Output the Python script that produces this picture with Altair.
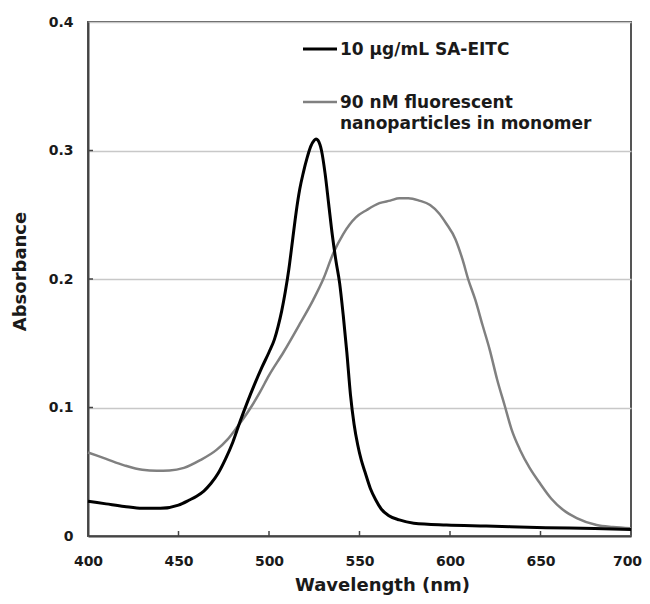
import altair as alt
import pandas as pd

# SA-EITC (black)
eitc_wl = [400, 410, 420, 430, 440, 450, 456, 460, 464, 468, 472, 476, 480, 484, 488, 492, 496,
           500, 503, 505, 507, 509, 511, 513, 515, 517, 519, 521, 523, 525, 526, 527, 529, 531,
           533, 535, 537, 539, 541, 543, 545, 547, 549, 551, 553, 556, 559, 562, 566, 572, 580,
           598, 620, 653, 680, 700]
eitc_abs = [0.027, 0.025, 0.023, 0.0215, 0.0215, 0.024, 0.028, 0.031, 0.035, 0.041, 0.049,
            0.060, 0.073, 0.089, 0.104, 0.118, 0.131, 0.143, 0.153, 0.163, 0.175, 0.190,
            0.208, 0.230, 0.252, 0.270, 0.283, 0.294, 0.303, 0.308, 0.309, 0.308, 0.300,
            0.282, 0.258, 0.234, 0.214, 0.197, 0.172, 0.143, 0.110, 0.087, 0.071, 0.059,
            0.050, 0.037, 0.028, 0.021, 0.016, 0.0125, 0.010, 0.0086, 0.0078, 0.0065, 0.0058,
            0.005]

# fluorescent nanoparticles (gray)
np_wl = [400, 410, 420, 430, 438, 445, 453, 462, 471, 477, 482, 489.5, 495, 500, 508, 517,
         524.5, 530, 535.5, 541, 548, 554, 561, 567, 572, 577, 583, 589, 594, 598, 603, 607,
         610, 614, 618, 622, 626, 630.4, 634, 638.7, 644, 649.7, 656, 662.6, 670, 681, 690, 700]
np_abs = [0.065, 0.060, 0.055, 0.0515, 0.0508, 0.051, 0.053, 0.059, 0.067, 0.075, 0.084,
          0.099, 0.112, 0.125, 0.143, 0.165, 0.184, 0.200, 0.220, 0.235, 0.248, 0.2537,
          0.259, 0.261, 0.2628, 0.2628, 0.261, 0.2576, 0.251, 0.243, 0.231, 0.2148, 0.200,
          0.1837, 0.164, 0.1447, 0.122, 0.1006, 0.083, 0.067, 0.053, 0.041, 0.029, 0.0202,
          0.014, 0.0086, 0.007, 0.006]

x_ticks = [400, 450, 500, 550, 600, 650, 700]
y_ticks = [0, 0.1, 0.2, 0.3, 0.4]
inner_x_ticks = [450, 500, 550, 600, 650]
inner_y_ticks = [0.1, 0.2, 0.3]

series_names = ["10 \u03bcg/mL SA-EITC", "90 nM fluorescent", "nanoparticles in monomer"]

W, H = 543, 514
FONT = "DejaVu Sans"

xs = alt.Scale(domain=[400, 700], nice=False, zero=False)
ys = alt.Scale(domain=[0, 0.4], nice=False)

x_axis = alt.Axis(values=x_ticks, grid=False, ticks=False, labelFont=FONT, labelFontSize=14,
                  labelFontWeight="bold", labelColor="#1a1a1a", labelPadding=18,
                  labelOffset={"condition": {"test": "datum.value == 700", "value": -4}, "value": 0},
                  domainColor="#444444", domainWidth=2, title="Wavelength (nm)",
                  titleFont=FONT, titleFontSize=18, titleFontWeight="bold", titleColor="#1a1a1a",
                  titleX=294, titleY=54, titleBaseline="alphabetic", titleAlign="center",
                  labelFlush=False)
y_axis = alt.Axis(values=y_ticks, grid=True, gridColor="#c8c8c8", gridWidth=1.5, ticks=False,
                  labelFont=FONT, labelFontSize=14, labelFontWeight="bold", labelColor="#1a1a1a",
                  labelPadding=15, domainColor="#444444", domainWidth=2,
                  labelExpr="datum.value == 0 ? '0' : format(datum.value, '.1f')",
                  title="Absorbance", titleFont=FONT, titleFontSize=18, titleFontWeight="bold",
                  titleColor="#1a1a1a", titleX=-68, titleY=249, titleAngle=270,
                  titleAlign="center", titleBaseline="middle")

df_e = pd.DataFrame({"wl": eitc_wl, "a": eitc_abs})
df_n = pd.DataFrame({"wl": np_wl, "a": np_abs})

gray_line = alt.Chart(df_n).mark_line(color="#808080", strokeWidth=2.5, interpolate="monotone").encode(
    x=alt.X("wl:Q", scale=xs, axis=x_axis),
    y=alt.Y("a:Q", scale=ys, axis=y_axis),
)
black_line = alt.Chart(df_e).mark_line(color="#000000", strokeWidth=3, interpolate="monotone").encode(
    x=alt.X("wl:Q", scale=xs),
    y=alt.Y("a:Q", scale=ys),
)

xt = alt.Chart(pd.DataFrame({"t": inner_x_ticks})).mark_rule(color="#444444", strokeWidth=1.5).encode(
    x=alt.X("t:Q", scale=xs), y=alt.value(H - 5), y2=alt.value(H))
yt = alt.Chart(pd.DataFrame({"t": inner_y_ticks})).mark_rule(color="#444444", strokeWidth=1.5).encode(
    y=alt.Y("t:Q", scale=ys), x=alt.value(0), x2=alt.value(5))

# legend (manual, inside plot)
leg_black = alt.Chart().mark_rule(color="#000000", strokeWidth=3).encode(
    x=alt.value(215), x2=alt.value(249), y=alt.value(27))
leg_gray = alt.Chart().mark_rule(color="#808080", strokeWidth=2.5).encode(
    x=alt.value(215), x2=alt.value(249), y=alt.value(80))

def txt(s, y):
    return alt.Chart().mark_text(align="left", baseline="alphabetic", font=FONT, fontSize=17,
                                 fontWeight="bold", color="#1a1a1a").encode(
        x=alt.value(252), y=alt.value(y), text=alt.value(s))

chart = alt.layer(
    gray_line, black_line, xt, yt, leg_black, leg_gray,
    txt(series_names[0], 33), txt(series_names[1], 86), txt(series_names[2], 107),
).properties(
    width=W, height=H,
    padding={"left": 80, "top": 14, "right": 11, "bottom": 60},
    autosize=alt.AutoSizeParams(type="none"),
).configure_view(stroke="#555555", strokeWidth=2)

chart.save("out.html", embed_options={"renderer": "svg", "actions": False})
